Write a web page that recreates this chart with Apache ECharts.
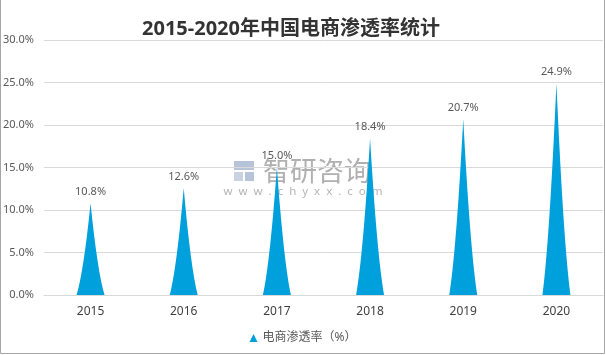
<!DOCTYPE html>
<html>
<head>
<meta charset="utf-8">
<script src="https://cdn.jsdelivr.net/npm/echarts@6/dist/echarts.min.js"></script>
<style>html,body{margin:0;padding:0;background:#fff;}#c{width:606px;height:355px;}</style>
</head>
<body>
<div id="c"></div>
<script>
var titleText = '2015-2020年中国电商渗透率统计';
var categories = ['2015', '2016', '2017', '2018', '2019', '2020'];
var seriesName = '电商渗透率（%）';
var penetration = [10.8, 12.6, 15.0, 18.4, 20.7, 24.9];
var yTicks = [0, 5, 10, 15, 20, 25, 30];

var FONT = '"Noto Sans", "Noto Sans CJK SC", sans-serif';
var chart = echarts.init(document.getElementById('c'), null, {renderer: 'canvas'});
var spike = 'path://M0,100 L100,100 Q75,75 50,0 Q25,75 0,100 Z';

chart.setOption({
  animation: false,
  backgroundColor: '#fff',
  title: {
    text: titleText,
    left: 286, top: 14, textAlign: 'center',
    textStyle: {fontSize: 20, fontWeight: 'bold', color: '#333', fontFamily: FONT}
  },
  legend: {
    data: [{name: seriesName, icon: 'triangle'}],
    left: 'center', top: 327,
    itemWidth: 8, itemHeight: 8, itemGap: 4,
    textStyle: {fontSize: 12, color: '#595959', fontFamily: FONT}
  },
  grid: {left: 43, right: 3, top: 40, bottom: 60},
  xAxis: {
    type: 'category',
    data: categories,
    axisLine: {show: true, lineStyle: {color: '#D9D9D9'}},
    axisTick: {show: false},
    axisLabel: {color: '#404040', fontSize: 12, margin: 11, fontFamily: FONT}
  },
  yAxis: {
    type: 'value',
    min: yTicks[0], max: yTicks[yTicks.length - 1], interval: 5,
    axisLine: {show: false},
    axisTick: {show: false},
    splitLine: {lineStyle: {color: '#D9D9D9'}},
    axisLabel: {color: '#595959', fontSize: 11, margin: 10, fontFamily: FONT,
      formatter: function (v) { return v.toFixed(1) + '%'; }}
  },
  graphic: [
    {type: 'polyline', silent: true, z: 100,
      shape: {points: [[0.5, 0], [0.5, 353.5], [604.5, 353.5], [604.5, 0]]},
      style: {stroke: '#A6A6A6', lineWidth: 1, fill: null}},
    {type: 'group', silent: true, z: -1, children: [
      {type: 'rect', shape: {x: 234, y: 161, width: 20, height: 9}, style: {fill: '#B7C3D8'}},
      {type: 'rect', shape: {x: 234, y: 172, width: 9, height: 9}, style: {fill: '#C9D2E2'}},
      {type: 'rect', shape: {x: 245, y: 172, width: 9, height: 9}, style: {fill: '#B7C3D8'}},
      {type: 'text', x: 317, y: 171, style: {text: '智研咨询', fontSize: 27, fill: '#B0B0B0',
        textAlign: 'center', textVerticalAlign: 'middle', fontFamily: '"Noto Sans CJK SC", sans-serif'}},
      {type: 'text', x: 303, y: 192, style: {text: 'w  w  w  .  c  h  y  x  x  .  c  o  m', fontSize: 11.5, fill: '#B5B5B5',
        textAlign: 'center', textVerticalAlign: 'middle', fontFamily: FONT}}
    ]}
  ],
  series: [{
    name: seriesName,
    type: 'pictorialBar',
    symbol: spike,
    symbolSize: [28, '100%'],
    barCategoryGap: '0%',
    itemStyle: {color: '#00A0DC'},
    label: {show: true, position: 'top', distance: 6, color: '#595959', fontSize: 11, fontFamily: FONT,
      formatter: function (p) { return p.value.toFixed(1) + '%'; }},
    data: penetration
  }]
});
</script>
</body>
</html>
